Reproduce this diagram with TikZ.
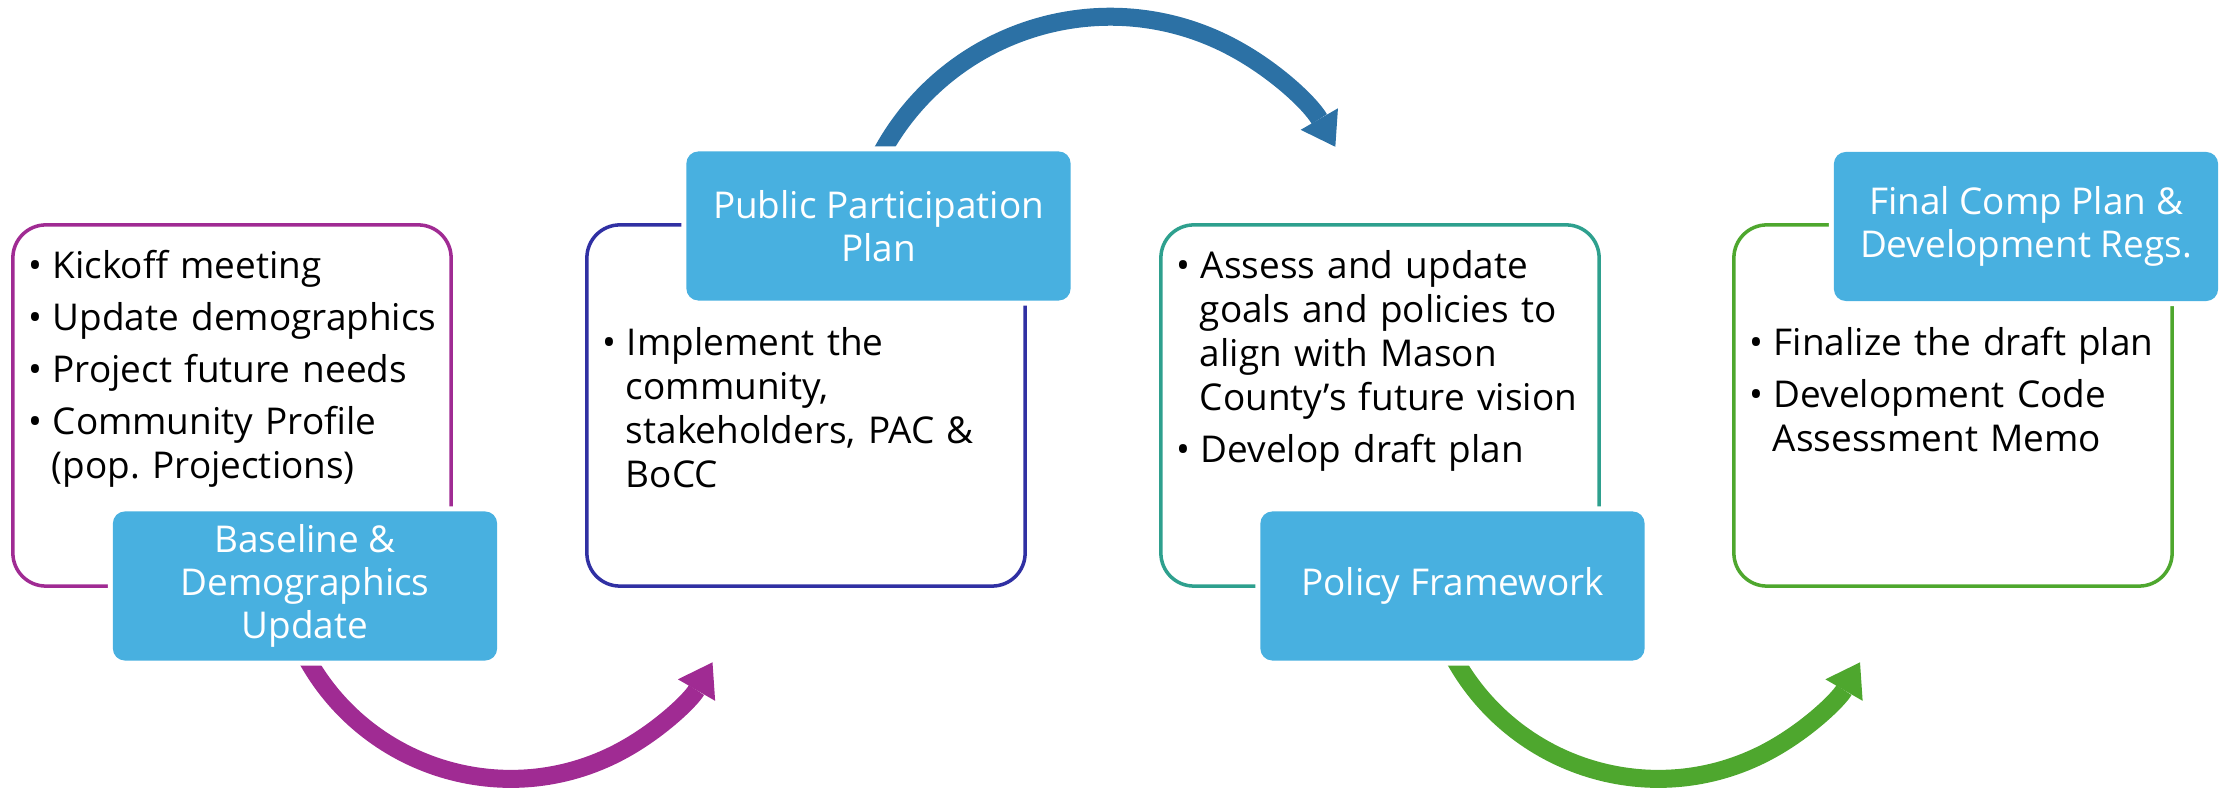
\documentclass[tikz,border=0pt]{standalone}
\usepackage{fontspec}
\setmainfont{Open Sans}
\usepackage{enumitem}
\usetikzlibrary{positioning,arrows.meta}
\pgfdeclarelayer{background}
\pgfsetlayers{background,main}
\frenchspacing

\definecolor{stageblue}{HTML}{48B0E0}
\definecolor{arcpurple}{HTML}{A02B93}
\definecolor{arcblue}{HTML}{2C71A5}
\definecolor{arcgreen}{HTML}{4EA72E}
\definecolor{linenavy}{HTML}{3030A3}
\definecolor{lineteal}{HTML}{2EA08E}

\newlist{tasks}{itemize}{1}
\setlist[tasks]{label=\textbullet, nosep, itemsep=2.3pt, leftmargin=2.3mm,
  labelwidth=1.3mm, labelsep=1mm, align=left}

\tikzset{
  frame/.style={draw, line width=1pt, rounded corners=3.3mm,
    minimum width=4.38cm, minimum height=3.61cm, inner sep=0pt},
  stage/.style={fill=stageblue, text=white, rounded corners=1.2mm,
    minimum width=3.84cm, minimum height=1.49cm, inner sep=0pt, align=center,
    font=\fontsize{10.5}{12.2}\selectfont,
    preaction={draw=white, line width=1mm}},
  tasklist/.style={text width=4.2cm, inner sep=0pt, align=left,
    font=\fontsize{10.5}{12.5}\selectfont},
  swoop/.style={line width=1.8mm,
    -{Triangle[length=3.2mm, width=4.3mm, line width=0pt]}}
}

\begin{document}
\begin{tikzpicture}[x=0.01cm, y=-0.01cm]
\useasboundingbox (0,0) rectangle (2226,789);

% outlined boxes
\node[frame, draw=arcpurple] (out1) at (232,405.5) {};
\node[frame, draw=linenavy] (out2) at (806,405.5) {};
\node[frame, draw=lineteal] (out3) at (1380,405.5) {};
\node[frame, draw=arcgreen] (out4) at (1953,405.5) {};

% task lists
\node[tasklist, below right=1.1mm and 1.7mm of out1.north west] (list1) {%
  \begin{tasks}
  \item Kickoff meeting
  \item Update demographics
  \item Project future needs
  \item Community Profile\newline (pop. Projections)
  \end{tasks}};
\node[tasklist, below right=8.8mm and 1.7mm of out2.north west] (list2) {%
  \begin{tasks}
  \item Implement the\newline community,\newline stakeholders, PAC \&\newline BoCC
  \end{tasks}};
\node[tasklist, below right=1.1mm and 1.7mm of out3.north west] (list3) {%
  \begin{tasks}
  \item Assess and update\newline goals and policies to\newline align with Mason\newline County’s future vision
  \item Develop draft plan
  \end{tasks}};
\node[tasklist, below right=8.8mm and 1.7mm of out4.north west] (list4) {%
  \begin{tasks}
  \item Finalize the draft plan
  \item Development Code\newline Assessment Memo
  \end{tasks}};

% stage titles
\node[stage] (base1) at (305,586) {Baseline \&\\Demographics\\Update};
\node[stage] (plan2) at (878.5,226) {Public Participation\\Plan};
\node[stage] (policy3) at (1452.5,586) {Policy Framework};
\node[stage] (final4) at (2026,226.5) {Final Comp Plan \&\\Development Regs.};

% curved arrows
\begin{pgfonlayer}{background}
\draw[swoop, arcpurple] ([yshift=0.6mm]base1.south) arc[start angle=152, end angle=30, radius=233];
\draw[swoop, arcblue] ([yshift=-0.8mm]plan2.north) arc[start angle=207, end angle=330, radius=260];
\draw[swoop, arcgreen] ([yshift=0.6mm]policy3.south) arc[start angle=152, end angle=30, radius=233];
\end{pgfonlayer}
\end{tikzpicture}
\end{document}
